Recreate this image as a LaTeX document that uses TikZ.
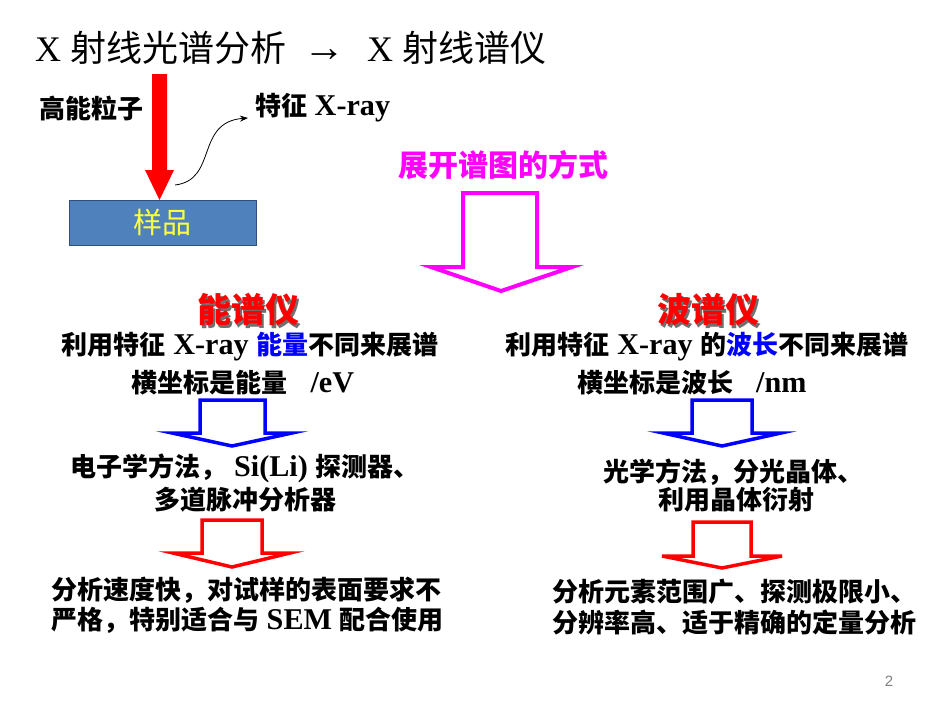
\documentclass[tikz,border=0pt]{standalone}
\usepackage{fontspec}
\setmainfont{Liberation Serif}
\newfontfamily\latb{Liberation Serif}[Scale=1.16]
\newfontfamily\cjk{Noto Sans CJK SC}
\newfontfamily\pgnumfont{Liberation Sans}
\usetikzlibrary{arrows.meta}
\newcommand\zw[1]{{\cjk #1}}
\newcommand\shadtxt[1]{\rlap{\textcolor{shad}{\hspace{2.5pt}\raisebox{-2.5pt}{#1}}}#1}
\definecolor{sampfill}{HTML}{4F81BD}
\definecolor{sampdraw}{HTML}{2F4F7F}
\definecolor{samptext}{HTML}{FFFF40}
\definecolor{magen}{HTML}{FF00FF}
\definecolor{txtblue}{HTML}{0000FF}
\definecolor{shad}{HTML}{707070}
\tikzset{
  body/.style={font=\bfseries\fontsize{26}{30}\selectfont\latb, inner sep=0pt},
  bodyw/.style={body, anchor=west},
  bigred/.style={font=\bfseries\fontsize{34}{38}\selectfont\cjk, text=red, inner sep=0pt},
  blockblue/.style={draw=txtblue, line width=3.5pt, fill=white, line join=miter},
  blockred/.style={draw=red, line width=3.5pt, fill=white, line join=miter},
  blockmag/.style={draw=magen, line width=4pt, fill=white, line join=miter},
}
\begin{document}
\begin{tikzpicture}[x=1pt,y=-1pt]
\useasboundingbox (0,0) rectangle (950,713);
% title
\node[anchor=west, inner sep=0pt, font=\fontsize{36}{40}\selectfont] (title) at (35,48)
  {X \zw{射线光谱分析}\hspace{17pt}{\fontsize{42}{40}\selectfont →}\hspace{22pt}X \zw{射线谱仪}};
% high energy particle
\node[body] (hi) at (91,108) {\zw{高能粒子}};
\node[bodyw] (xr) at (255,108) {\zw{特征} X-ray};
% sample
\node[draw=sampdraw, fill=sampfill, line width=1pt, minimum width=187pt, minimum height=45pt,
      inner sep=0pt, font=\fontsize{29}{32}\selectfont\cjk, text=samptext] (samp) at (162.5,222.5) {样品};
% red thick arrow
\fill[red] (152,74) -- (167,74) -- (167,170) -- (174,170) -- (159.5,200) -- (145,170) -- (152,170) -- cycle;
% curved arrow
\coordinate (cs) at (175,185);
\coordinate (ce) at (248,118);
\draw[line width=0.8pt, -{Stealth[length=8pt,width=6pt]}] (cs) .. controls (218,180) and (195,122) .. (ce);
% magenta
\node[font=\bfseries\fontsize{30}{34}\selectfont\cjk, text=magen, inner sep=0pt] (way) at (503,165) {展开谱图的方式};
\draw[blockmag] (463,193) -- (537,193) -- (537,267) -- (572,267) -- (501,291) -- (431,267) -- (463,267) -- cycle;
% left column
\node[bigred] (np) at (248,311) {\shadtxt{能谱仪}};
\node[body] (l1) at (250,347) {\zw{利用特征} X-ray \textcolor{txtblue}{\zw{能量}}\zw{不同来展谱}};
\node[body] (l2) at (243,383) {\zw{横坐标是能量}\ \ \ /eV};
\draw[blockblue] (200,400) -- (265,400) -- (265,433) -- (292,433) -- (232,446) -- (172,433) -- (200,433) -- cycle;
\node[body] (l3) at (245,468) {\zw{电子学方法，} Si(Li) \zw{探测器、}};
\node[body] (l4) at (245,500) {\zw{多道脉冲分析器}};
\draw[blockred] (202,520) -- (262,520) -- (262,553) -- (290,553) -- (232,567) -- (173,553) -- (202,553) -- cycle;
\node[bodyw] (l5) at (51,590) {\zw{分析速度快，对试样的表面要求不}};
\node[bodyw] (l6) at (51,620) {\zw{严格，特别适合与} SEM \zw{配合使用}};
% right column
\node[bigred] (bp) at (708,311) {\shadtxt{波谱仪}};
\node[body] (r1) at (707,347) {\zw{利用特征} X-ray \zw{的}\textcolor{txtblue}{\zw{波长}}\zw{不同来展谱}};
\node[body] (r2) at (692,383) {\zw{横坐标是波长}\ \ \ /nm};
\draw[blockblue] (692,400) -- (752,400) -- (752,433) -- (781,433) -- (722,446) -- (663,433) -- (692,433) -- cycle;
\node[body] (r3) at (733,472) {\zw{光学方法，分光晶体、}};
\node[body] (r4) at (736,500) {\zw{利用晶体衍射}};
\draw[blockred] (693,522) -- (751,522) -- (751,556) -- (782,556) -- (722,568) -- (662,556) -- (693,556) -- cycle;
\node[bodyw] (r5) at (552,592) {\zw{分析元素范围广、探测极限小、}};
\node[bodyw] (r6) at (552,622) {\zw{分辨率高、适于精确的定量分析}};
% page number
\node[font=\pgnumfont\fontsize{15}{18}\selectfont, text=gray, inner sep=0pt] (pg) at (889,681) {2};
\end{tikzpicture}
\end{document}
